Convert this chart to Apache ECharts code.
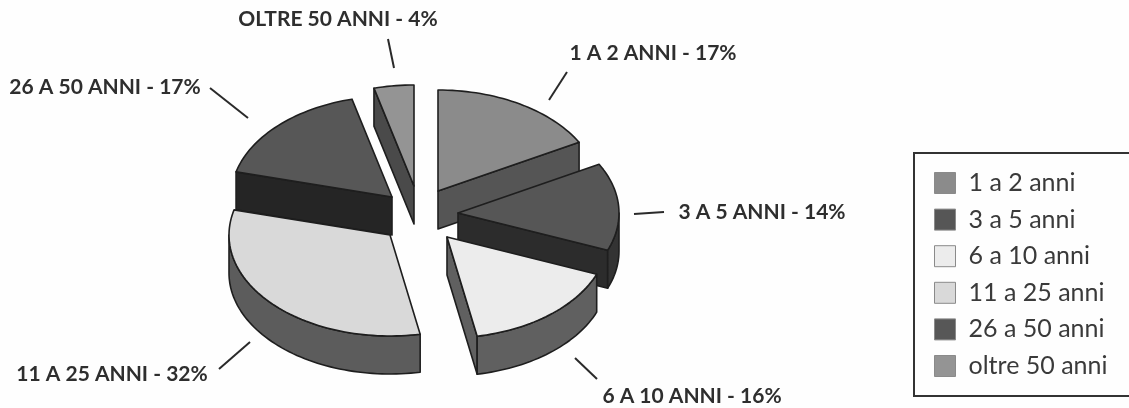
<!DOCTYPE html>
<html>
<head>
<meta charset="utf-8">
<style>html,body{margin:0;padding:0;background:#fefefe}#chart{width:1129px;height:408px}</style>
<script src="https://cdn.jsdelivr.net/npm/echarts@6/dist/echarts.min.js"></script>
</head>
<body>
<div id="chart"></div>
<script>
// Data
const categories = ['1 a 2 anni', '3 a 5 anni', '6 a 10 anni', '11 a 25 anni', '26 a 50 anni', 'oltre 50 anni'];
const shares = [17, 14, 16, 32, 17, 4];
const labels = ['1 A 2 ANNI - 17%', '3 A 5 ANNI - 14%', '6 A 10 ANNI - 16%', '11 A 25 ANNI - 32%', '26 A 50 ANNI - 17%', 'OLTRE 50 ANNI - 4%'];

// Styles
const topColors = ['#8b8b8b', '#565656', '#ececec', '#d9d9d9', '#575757', '#949494'];
const arcColors = ['#555555', '#333333', '#606060', '#5c5c5c', '#252525', '#4a4a4a'];
const radialColors = ['#555555', '#2c2c2c', '#606060', '#5c5c5c', '#252525', '#4a4a4a'];

// Layout: each slice's exploded tip, label position and leader line
const RX = 161, RY = 101, DEPTH = 38;
const tips = [[438, 191], [458, 213], [447, 237], [390, 235], [392, 197], [414, 186]];
const labelAt = [[653, 53], [762, 212], [692, 396], [112, 374], [105, 87], [338, 19]];
const leaders = [[[567, 72], [549, 100]], [[634, 214], [664, 212]], [[575, 358], [597, 379]], [[250, 342], [219, 369]], [[210, 88], [248, 118]], [[388, 39], [394, 68]]];
const drawOrder = [4, 5, 6, 3, 2, 1];

const total = shares.reduce((a, b) => a + b, 0);
const startShare = shares.map((_, i) => shares.slice(0, i).reduce((a, b) => a + b, 0));

function pt(tip, t, dy) {
  return [tip[0] + RX * Math.sin(t), tip[1] - RY * Math.cos(t) + (dy || 0)];
}
function arc(tip, a, b, dy) {
  const n = Math.max(2, Math.ceil(Math.abs(b - a) / 0.03));
  const out = [];
  for (let k = 0; k <= n; k++) out.push(pt(tip, a + (b - a) * k / n, dy));
  return out;
}
const edge = { stroke: '#1e1e1e', lineWidth: 1.6, lineJoin: 'round' };
function poly(points, fill) {
  return { type: 'polygon', shape: { points }, style: Object.assign({ fill }, edge) };
}
function makeRender(i) {
  return function (params, api) {
    const v = api.value(0);
    const t1 = startShare[i] / total * 2 * Math.PI;
    const t2 = t1 + v / total * 2 * Math.PI;
    const tip = tips[i];
    const children = [];
    const wallDown = [tip[0], tip[1] + DEPTH];
    if (Math.sin(t2) > 0) {
      children.push(poly([tip, pt(tip, t2), pt(tip, t2, DEPTH), wallDown], radialColors[i]));
    }
    if (-Math.sin(t1) > 0) {
      children.push(poly([tip, pt(tip, t1), pt(tip, t1, DEPTH), wallDown], radialColors[i]));
    }
    const a = Math.max(t1, Math.PI / 2), b = Math.min(t2, 3 * Math.PI / 2);
    if (b > a) {
      children.push(poly(arc(tip, a, b, 0).concat(arc(tip, b, a, DEPTH)), arcColors[i]));
    }
    children.push(poly([tip].concat(arc(tip, t1, t2, 0)), topColors[i]));
    const L = leaders[i];
    children.push({ type: 'line', shape: { x1: L[0][0], y1: L[0][1], x2: L[1][0], y2: L[1][1] }, style: { stroke: '#2a2a2a', lineWidth: 2 } });
    children.push({ type: 'text', style: { text: labels[i], x: labelAt[i][0], y: labelAt[i][1], align: 'center', verticalAlign: 'middle', font: 'bold 21px Lato', fill: '#2e2e2e' } });
    return { type: 'group', children };
  };
}

const chart = echarts.init(document.getElementById('chart'), null, { renderer: 'canvas' });
chart.setOption({
  animation: false,
  backgroundColor: '#fefefe',
  legend: {
    left: 914, top: 153,
    orient: 'vertical',
    data: categories,
    itemWidth: 21, itemHeight: 21, itemGap: 11.6,
    icon: 'rect',
    padding: [17.5, 40, 17.5, 20],
    borderColor: '#333', borderWidth: 2,
    textStyle: { fontFamily: 'Lato', fontSize: 25, color: '#3a3a3a', padding: [0, 0, 0, 8] },
    itemStyle: { borderColor: '#8a8a8a', borderWidth: 1 }
  },
  series: categories.map((name, i) => ({
    type: 'custom',
    name,
    coordinateSystem: 'none',
    z: drawOrder[i],
    itemStyle: { color: topColors[i] },
    renderItem: makeRender(i),
    data: [[shares[i]]],
    silent: true
  }))
});
</script>
</body>
</html>
